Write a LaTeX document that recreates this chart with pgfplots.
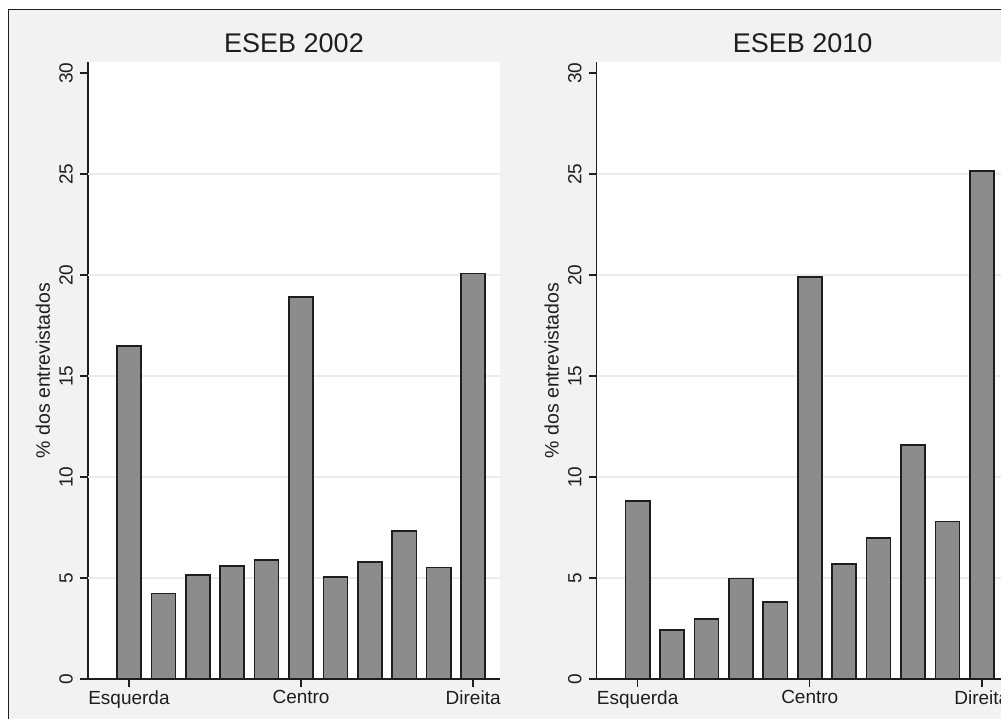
\documentclass[border=0pt]{standalone}
\usepackage{fontspec}
\setmainfont{Liberation Sans}
\usepackage{pgfplots}
\usepackage{pgfplotstable}
\pgfplotsset{compat=1.18}

\definecolor{bgray}{HTML}{F2F2F2}
\definecolor{barfill}{HTML}{8C8C8C}
\definecolor{ink}{HTML}{1E1E1E}
\definecolor{gridc}{HTML}{EBEBEB}

% position 0 = Esquerda, 5 = Centro, 10 = Direita
\pgfplotstableread{
pos v2002 v2010
0  16.50  8.80
1   4.24  2.43
2   5.15  2.97
3   5.60  4.97
4   5.88  3.80
5  18.90 19.90
6   5.05  5.69
7   5.79  6.97
8   7.33 11.60
9   5.53  7.79
10 20.08 25.15
}\eseb

\pgfplotsset{
  panel/.style={
    scale only axis, width=412pt, height=617pt, anchor=south west,
    xmin=-1.19, xmax=10.78, ymin=0, ymax=30.55,
    axis x line*=bottom, axis y line*=left,
    axis line style={-, ink, line width=1.4pt},
    axis background/.style={fill=white},
    xtick={0,5,10}, xticklabels={Esquerda,Centro,Direita},
    ytick={0,5,...,30},
    tick align=outside, major tick length=8pt,
    tick style={ink, line width=1.4pt},
    extra y ticks={5,10,15,20,25}, extra y tick labels={},
    extra y tick style={grid=major, major tick length=0pt},
    major grid style={gridc, line width=1.2pt},
    /pgf/number format/assume math mode=true,
    xticklabel style={font=\fontsize{19}{21}\selectfont, text=ink},
    yticklabel style={font=\fontsize{19}{21}\selectfont, text=ink,
      rotate=90, anchor=south, inner sep=0pt},
    yticklabel shift=7pt,
    ylabel={\% dos entrevistados},
    ylabel style={at={(axis description cs:0,0.5)}, anchor=center,
      yshift=45pt, font=\fontsize{19.5}{22}\selectfont, text=ink},
    title style={at={(axis description cs:0.5,1)}, anchor=base,
      yshift=3pt, font=\fontsize{27}{30}\selectfont, text=ink},
  },
  bars/.style={ybar, bar width=0.7, fill=barfill, draw=ink, line width=1.6pt},
}

\begin{document}
\begin{tikzpicture}[x=1pt,y=1pt]
\path[use as bounding box] (0,0) rectangle (1001,718);
\clip (0,0) rectangle (1001,718);
\fill[white] (0,0) rectangle (1001,718);
\fill[bgray] (8.3,-20) rectangle (1030,708.7);
\draw[ink, line width=1.5pt] (8.3,-20) -- (8.3,708.7) -- (1030,708.7);

\begin{axis}[panel, at={(88pt,39pt)}, title={ESEB 2002}]
\addplot[bars] table[x=pos, y=v2002] {\eseb};
\end{axis}

\begin{axis}[panel, at={(596.7pt,39pt)}, title={ESEB 2010}]
\addplot[bars] table[x=pos, y=v2010] {\eseb};
\end{axis}
\end{tikzpicture}
\end{document}
